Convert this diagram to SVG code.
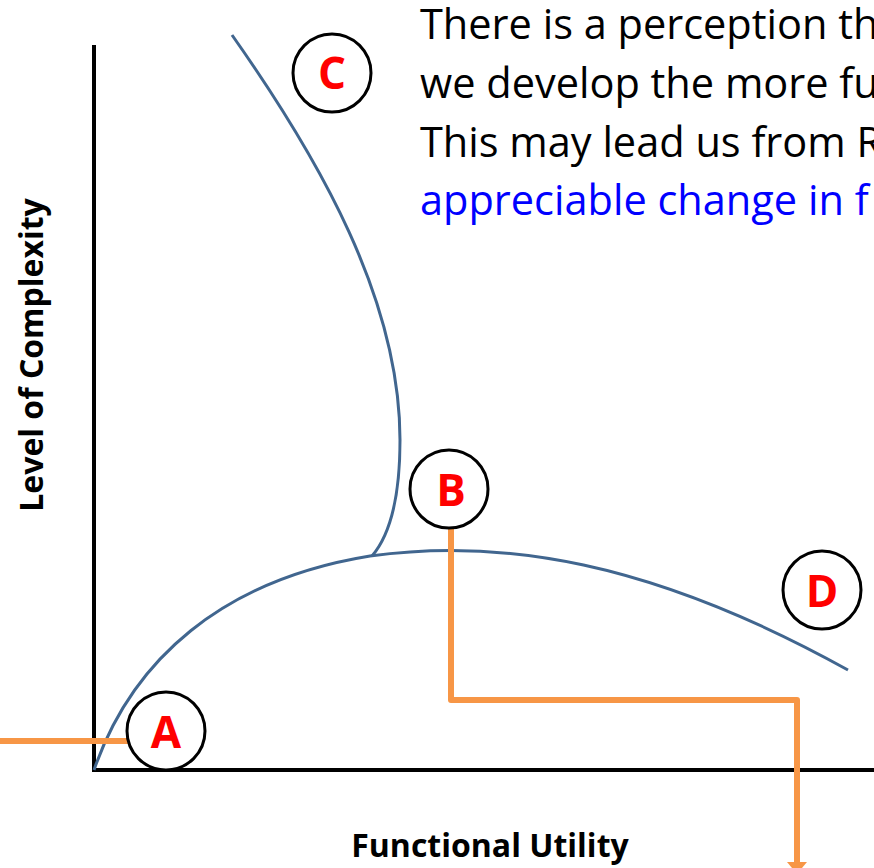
<svg xmlns="http://www.w3.org/2000/svg" width="874" height="868" viewBox="0 0 874 868">
<style>
.axis{stroke:#000;stroke-width:4;fill:none}
.curve{stroke:#41668F;stroke-width:3;fill:none}
.conn{stroke:#F79646;stroke-width:6;fill:none;stroke-linejoin:round}
.node circle{fill:#fff;stroke:#000;stroke-width:3}
.node text{font-family:"Open Sans","Liberation Sans",sans-serif;font-weight:bold;font-size:44px;fill:#FF0000;text-anchor:middle}
.body{font-family:"Open Sans","Liberation Sans",sans-serif;font-size:41.5px;fill:#000}
.lbl{font-family:"Open Sans","Liberation Sans",sans-serif;font-weight:bold;font-size:32px;fill:#000;text-anchor:middle}
</style>
<defs>
<marker id="ah" viewBox="0 0 12 20" refX="12" refY="10" markerWidth="2" markerHeight="3.33" orient="auto" markerUnits="strokeWidth">
<path d="M0,0 L12,10 L0,20 z" fill="#F79646"/>
</marker>
</defs>
<rect width="874" height="868" fill="#fff"/>
<g id="text">
<text class="body" x="420" y="39">There is a perception th</text>
<text class="body" x="420" y="98">we develop the more fu</text>
<text class="body" x="420" y="157">This may lead us from R</text>
<text class="body" x="420" y="215" style="fill:#0000FF">appreciable change in f</text>
</g>
<g id="axes">
<path class="axis" d="M94,45 L94,770 L874,770"/>
<text class="lbl" x="490" y="857">Functional Utility</text>
<text class="lbl" transform="translate(43,355) rotate(-90)">Level of Complexity</text>
</g>
<g id="curves">
<path class="curve" d="M94,770 C132,660 222,580 370,556 C500,538 650,560 848,670"/>
<path class="curve" d="M232,35 C320,160 400,300 400,440 C400,500 390,535 372,556"/>
</g>
<g id="connectors">
<path class="conn" d="M0,741 L143,741"/>
<path class="conn" d="M451,517 L451,700 L797,700 L797,874" marker-end="url(#ah)"/>
</g>
<g id="node-C" class="node"><circle cx="332" cy="73" r="39"/><text x="332" y="89">C</text></g>
<g id="node-B" class="node"><circle cx="449" cy="489" r="39"/><text x="451" y="506">B</text></g>
<g id="node-D" class="node"><circle cx="822" cy="590" r="39"/><text x="822" y="607">D</text></g>
<g id="node-A" class="node"><circle cx="166" cy="731" r="39"/><text x="166" y="748">A</text></g>
</svg>
